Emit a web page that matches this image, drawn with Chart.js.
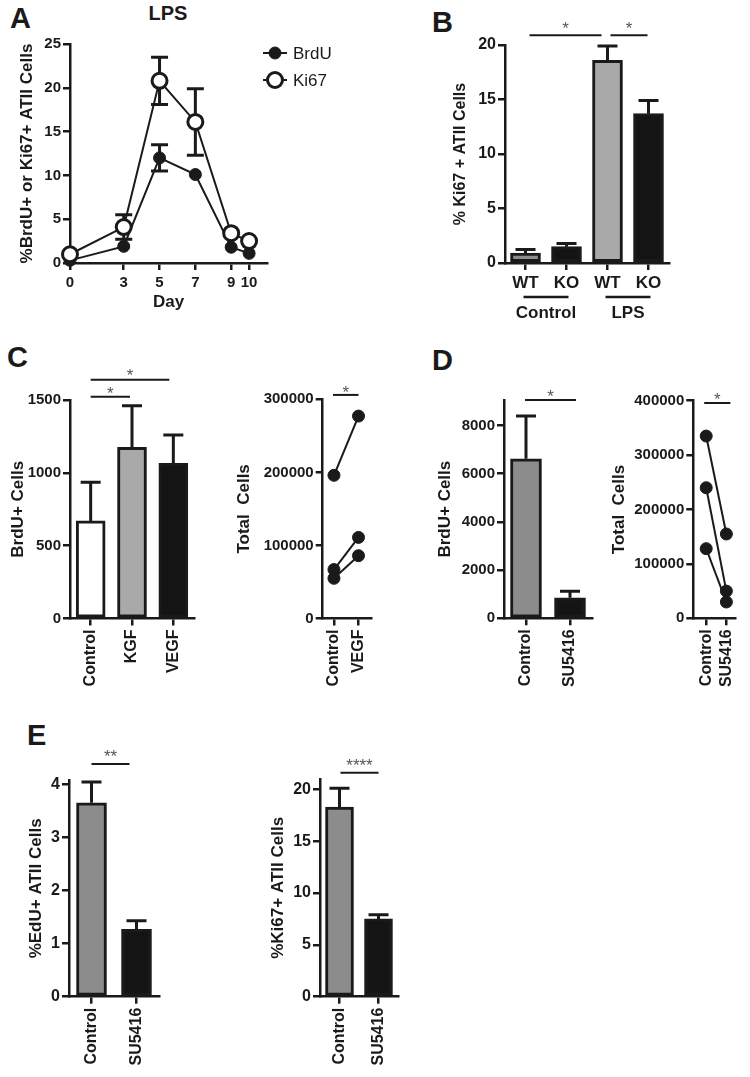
<!DOCTYPE html>
<html>
<head>
<meta charset="utf-8">
<script src="https://cdn.jsdelivr.net/npm/chart.js@4.4.1/dist/chart.umd.min.js"></script>
<style>
  body { margin: 0; background: #fff; width: 750px; height: 1077px; overflow: hidden; position: relative;
         font-family: "Liberation Sans", Arial, sans-serif; }
  canvas { position: absolute; }
  .lbl { position: absolute; font-weight: bold; color: #1a1a1a; line-height: 1; white-space: nowrap; }
  .panel { font-size: 29px; }
</style>
</head>
<body>
<div class="lbl panel" style="left:10px;top:4px">A</div>
<div class="lbl panel" style="left:432px;top:8px">B</div>
<div class="lbl panel" style="left:7px;top:343px">C</div>
<div class="lbl panel" style="left:432px;top:346px">D</div>
<div class="lbl panel" style="left:27px;top:721px">E</div>
<div class="lbl" style="left:168px;top:3px;font-size:20px;transform:translateX(-50%)">LPS</div>
<script>
const FONT = '"Liberation Sans", Arial, sans-serif';
const INK = '#1a1a1a';
const STAR = '#555555';

// ---- data ----
// A: time course after LPS
const daysA = [0, 3, 5, 7, 9, 10];
const brduA = [0.3, 1.9, 12.0, 10.1, 1.8, 1.1];
const brduErrA = [0.3, 0.5, 1.5, 0.5, 0.4, 0.3];
const ki67A = [1.0, 4.1, 20.8, 16.1, 3.4, 2.5];
const ki67ErrA = [0.4, 1.4, 2.7, 3.8, 0.6, 0.4];
const dayTicksA = [0, 3, 5, 7, 9, 10];

// B
const catsB = ['WT', 'KO', 'WT', 'KO'];
const groupsB = ['Control', 'LPS'];
const meanB = [0.9, 1.5, 18.6, 13.7];
const semB = [0.35, 0.3, 1.3, 1.2];

// C
const catsC = ['Control', 'KGF', 'VEGF'];
const meanC = [670, 1175, 1065];
const semC = [265, 285, 195];
const pairCatsC = ['Control', 'VEGF'];
const controlC = [196000, 67000, 55000];
const vegfC = [277000, 111000, 86000];

// D
const catsD = ['Control', 'SU5416'];
const meanD = [6620, 850];
const semD = [1780, 270];
const controlD = [335000, 240000, 128000];
const su5416D = [155000, 50000, 30000];

// E
const catsE = ['Control', 'SU5416'];
const eduE = [3.65, 1.27];
const eduSemE = [0.39, 0.16];
const ki67E = [18.3, 7.5];
const ki67SemE = [1.8, 0.4];

Chart.defaults.font.family = FONT;
Chart.defaults.color = INK;

function mkCanvas(id, box) {
  const c = document.createElement('canvas');
  c.id = id; c.width = box.w; c.height = box.h;
  c.style.left = box.left + 'px'; c.style.top = box.top + 'px';
  c.style.width = box.w + 'px'; c.style.height = box.h + 'px';
  document.body.appendChild(c);
  return c;
}

// box = canvas on the page, plot = wanted chart area on the page
function frame(box, plot) {
  return {
    yw: plot.l - box.left,
    xh: box.top + box.h - plot.b - 2,
    padding: {left: 0, top: plot.t - box.top, right: box.left + box.w - plot.r, bottom: 2}
  };
}

function yAxis(fr, o) {
  return {
    type: 'linear', min: 0, max: o.max,
    afterFit: s => { s.width = fr.yw; },
    afterBuildTicks: s => {
      const t = [];
      for (let k = 0; k * o.step <= o.max + 1e-9; k++) t.push({value: k * o.step});
      s.ticks = t;
    },
    border: {display: true, color: INK, width: 2.5},
    grid: {display: true, drawOnChartArea: false, drawTicks: true, tickLength: 7, color: INK, lineWidth: 2.5},
    ticks: {padding: 2, color: INK,
            font: {family: FONT, size: o.tickSize || 15, weight: 'bold'}, callback: v => String(v)},
    title: {display: true, text: o.title, color: INK, padding: {top: 0, bottom: 0},
            font: {family: FONT, size: o.titleSize || 17, weight: 'bold'}}
  };
}

function xCat(fr, o) {
  return {
    type: 'category', offset: true,
    afterFit: s => { s.height = fr.xh; },
    border: {display: true, color: INK, width: 2.5},
    grid: {display: true, offset: false, drawOnChartArea: false, drawTicks: true, tickLength: 7, color: INK, lineWidth: 2.5},
    ticks: {autoSkip: false, minRotation: o.rot, maxRotation: o.rot, padding: o.pad, color: INK,
            font: {family: FONT, size: o.size || 16, weight: 'bold'}}
  };
}

function xLin(fr, o) {
  return {
    type: 'linear', min: o.min, max: o.max,
    afterFit: s => { s.height = fr.xh; },
    afterBuildTicks: s => { s.ticks = o.ticks.map(v => ({value: v})); },
    border: {display: true, color: INK, width: 2.5},
    grid: {display: true, drawOnChartArea: false, drawTicks: true, tickLength: 7, color: INK, lineWidth: 2.5},
    ticks: {autoSkip: false, minRotation: o.rot, maxRotation: o.rot, padding: o.pad, color: INK,
            font: {family: FONT, size: o.size || 16, weight: 'bold'}, callback: o.label},
    title: o.title ? {display: true, text: o.title, color: INK, padding: {top: 0, bottom: o.titlePad},
                      font: {family: FONT, size: 17, weight: 'bold'}} : {display: false}
  };
}

// error bars; ones shorter than the marker are hidden, as Prism does
const errorBars = {
  id: 'errorBars',
  beforeDatasetsDraw(chart) {
    const ctx = chart.ctx, ys = chart.scales.y;
    chart.data.datasets.forEach((ds, i) => {
      if (!ds.errors) return;
      const meta = chart.getDatasetMeta(i);
      ctx.save();
      ctx.strokeStyle = INK; ctx.lineWidth = 3;
      meta.data.forEach((el, j) => {
        const d = ds.data[j], v = typeof d === 'object' ? d.y : d, e = ds.errors[j];
        const hi = ys.getPixelForValue(v + e);
        const lo = ys.getPixelForValue(ds.bothWays ? v - e : v);
        const w = ds.capWidth / 2;
        const mid = ys.getPixelForValue(v);
        const hideBelow = ds.hideBelow || 0;
        ctx.beginPath();
        if (mid - hi > hideBelow) {
          ctx.moveTo(el.x, mid); ctx.lineTo(el.x, hi);
          ctx.moveTo(el.x - w, hi); ctx.lineTo(el.x + w, hi);
        }
        if (ds.bothWays && lo - mid > hideBelow) {
          ctx.moveTo(el.x, mid); ctx.lineTo(el.x, lo);
          ctx.moveTo(el.x - w, lo); ctx.lineTo(el.x + w, lo);
        }
        ctx.stroke();
      });
      ctx.restore();
    });
  }
};

function sigBars(items) {
  return {
    id: 'sig',
    afterDraw(chart) {
      const ctx = chart.ctx, xs = chart.scales.x, ys = chart.scales.y;
      items.forEach(it => {
        const x1 = xs.getPixelForValue(it.from) + it.off[0];
        const x2 = xs.getPixelForValue(it.to) + it.off[1];
        const y = ys.getPixelForValue(it.level);
        ctx.save();
        ctx.strokeStyle = INK; ctx.lineWidth = 2;
        ctx.beginPath(); ctx.moveTo(x1, y); ctx.lineTo(x2, y); ctx.stroke();
        ctx.fillStyle = STAR; ctx.font = '17px ' + FONT;
        ctx.textAlign = 'center'; ctx.textBaseline = 'alphabetic';
        ctx.fillText(it.text, (x1 + x2) / 2, y - it.rise + 9.7);
        ctx.restore();
      });
    }
  };
}

function build(id, box, plot, type, data, scales, plugins) {
  const fr = frame(box, plot);
  return new Chart(mkCanvas(id, box), {
    type: type,
    data: data,
    options: {
      responsive: false, animation: false, devicePixelRatio: 1,
      layout: {autoPadding: false, padding: fr.padding},
      plugins: {legend: {display: false}, tooltip: {enabled: false}},
      scales: scales(fr)
    },
    plugins: plugins
  });
}

function barSet(vals, errs, colors, thick) {
  return {data: vals, errors: errs, capWidth: 20, backgroundColor: colors, borderColor: INK,
          borderWidth: 3, borderSkipped: false, barThickness: thick};
}

function pairSets(a, b) {
  return a.map((v, i) => ({
    data: [{x: 0, y: v}, {x: 1, y: b[i]}],
    borderColor: INK, borderWidth: 2, pointRadius: 6, pointBackgroundColor: INK,
    pointBorderColor: INK, pointBorderWidth: 1, clip: false
  }));
}

// ---- A ----
const boxA = {left: 17, top: 0, w: 330, h: 320};
const legendA = {
  id: 'legendA',
  afterDraw(chart) {
    const ctx = chart.ctx, ox = boxA.left;
    const rows = [{y: 53, text: 'BrdU', fill: INK, r: 6, bw: 1}, {y: 80, text: 'Ki67', fill: '#fff', r: 7.5, bw: 3}];
    rows.forEach(r => {
      ctx.save();
      ctx.strokeStyle = INK; ctx.lineWidth = 2;
      ctx.beginPath(); ctx.moveTo(263 - ox, r.y); ctx.lineTo(287 - ox, r.y); ctx.stroke();
      ctx.beginPath(); ctx.arc(275 - ox, r.y, r.r, 0, Math.PI * 2);
      ctx.fillStyle = r.fill; ctx.fill(); ctx.lineWidth = r.bw; ctx.stroke();
      ctx.fillStyle = INK; ctx.font = '17px ' + FONT; ctx.textBaseline = 'middle'; ctx.textAlign = 'left';
      ctx.fillText(r.text, 293 - ox, r.y + 1);
      ctx.restore();
    });
  }
};
build('chartA', boxA, {l: 70, t: 44, r: 267, b: 263}, 'line', {
  datasets: [
    {label: 'Ki67', data: daysA.map((d, i) => ({x: d, y: ki67A[i]})), errors: ki67ErrA, bothWays: true,
     capWidth: 17, hideBelow: 9,
     borderColor: INK, borderWidth: 2, pointRadius: 7.5, pointBackgroundColor: '#fff', pointBorderColor: INK,
     pointBorderWidth: 3, clip: false},
    {label: 'BrdU', data: daysA.map((d, i) => ({x: d, y: brduA[i]})), errors: brduErrA, bothWays: true,
     capWidth: 17, hideBelow: 7,
     borderColor: INK, borderWidth: 2, pointRadius: 6, pointBackgroundColor: INK, pointBorderColor: INK,
     pointBorderWidth: 1, clip: false}
  ]
}, fr => ({
  x: xLin(fr, {min: 0, max: 11, ticks: dayTicksA, rot: 0, pad: 4, size: 15, label: v => String(v), title: 'Day', titlePad: 5}),
  y: yAxis(fr, {max: 25, step: 5, title: '%BrdU+ or Ki67+ ATII Cells'})
}), [errorBars, legendA]);

// ---- B ----
const groupLabelsB = {
  id: 'groupsB',
  afterDraw(chart) {
    const ctx = chart.ctx, xs = chart.scales.x, b = chart.chartArea.bottom;
    groupsB.forEach((g, k) => {
      const x1 = xs.getPixelForValue(2 * k) - 2, x2 = xs.getPixelForValue(2 * k + 1) + 2;
      ctx.save();
      ctx.strokeStyle = INK; ctx.lineWidth = 2.5;
      ctx.beginPath(); ctx.moveTo(x1, b + 34); ctx.lineTo(x2, b + 34); ctx.stroke();
      ctx.fillStyle = INK; ctx.font = 'bold 17px ' + FONT; ctx.textAlign = 'center'; ctx.textBaseline = 'middle';
      ctx.fillText(g, (x1 + x2) / 2, b + 50);
      ctx.restore();
    });
  }
};
build('chartB', {left: 451, top: 0, w: 299, h: 330}, {l: 505, t: 45, r: 669, b: 263}, 'bar', {
  labels: catsB,
  datasets: [barSet(meanB, semB, ['#8c8c8c', '#141414', '#a9a9a9', '#141414'], 30)]
}, fr => ({
  x: xCat(fr, {rot: 0, pad: 3, size: 17}),
  y: yAxis(fr, {max: 20, step: 5, title: '% Ki67 + ATII Cells', tickSize: 16, titleSize: 16})
}), [errorBars, groupLabelsB, sigBars([
  {from: 0, to: 2, level: 20.9, text: '*', off: [4, -6], rise: 11},
  {from: 2, to: 3, level: 20.9, text: '*', off: [3, -1], rise: 11}
])]);

// ---- C ----
build('chartC1', {left: 8, top: 340, w: 200, h: 360}, {l: 70, t: 400, r: 194, b: 618.5}, 'bar', {
  labels: catsC,
  datasets: [barSet(meanC, semC, ['#ffffff', '#a9a9a9', '#141414'], 29)]
}, fr => ({
  x: xCat(fr, {rot: 90, pad: 4}),
  y: yAxis(fr, {max: 1500, step: 500, title: 'BrdU+ Cells'})
}), [errorBars, sigBars([
  {from: 0, to: 2, level: 1639, text: '*', off: [0, -4], rise: 8},
  {from: 0, to: 1, level: 1522, text: '*', off: [0, -2], rise: 7}
])]);

build('chartC2', {left: 234, top: 340, w: 150, h: 360}, {l: 322.7, t: 399.3, r: 375, b: 618.5}, 'line', {
  datasets: pairSets(controlC, vegfC)
}, fr => ({
  x: xLin(fr, {min: -0.46, max: 1.5, ticks: [0, 1], rot: 90, pad: 4, label: v => pairCatsC[v]}),
  y: yAxis(fr, {max: 300000, step: 100000, title: 'Total  Cells'})
}), [sigBars([{from: 0, to: 1, level: 306000, text: '*', off: [-1, 0], rise: 7}])]);

// ---- D ----
build('chartD1', {left: 435, top: 340, w: 165, h: 360}, {l: 504, t: 400, r: 592, b: 618.3}, 'bar', {
  labels: catsD,
  datasets: [barSet(meanD, semD, ['#8c8c8c', '#141414'], 31)]
}, fr => ({
  x: xCat(fr, {rot: 90, pad: 4}),
  y: yAxis(fr, {max: 9060, step: 2000, title: 'BrdU+ Cells'})
}), [errorBars, sigBars([{from: 0, to: 1, level: 9060, text: '*', off: [-1, 6], rise: 8}])]);

build('chartD2', {left: 609, top: 340, w: 141, h: 360}, {l: 693.3, t: 400.7, r: 748, b: 618.3}, 'line', {
  datasets: pairSets(controlD, su5416D)
}, fr => ({
  x: xLin(fr, {min: -0.64, max: 1.46, ticks: [0, 1], rot: 90, pad: 4, label: v => catsD[v]}),
  y: yAxis(fr, {max: 400000, step: 100000, title: 'Total  Cells'})
}), [sigBars([{from: 0, to: 1, level: 395800, text: '*', off: [-2, 4], rise: 8}])]);

// ---- E ----
build('chartE1', {left: 26, top: 720, w: 144, h: 357}, {l: 69, t: 780, r: 159, b: 996.7}, 'bar', {
  labels: catsE,
  datasets: [barSet(eduE, eduSemE, ['#8c8c8c', '#141414'], 30)]
}, fr => ({
  x: xCat(fr, {rot: 90, pad: 4}),
  y: yAxis(fr, {max: 4.08, step: 1, title: '%EdU+ ATII Cells', tickSize: 16})
}), [errorBars, sigBars([{from: 0, to: 1, level: 4.38, text: '**', off: [0, -7], rise: 12}])]);

build('chartE2', {left: 268, top: 720, w: 140, h: 357}, {l: 320, t: 779, r: 398, b: 996.7}, 'bar', {
  labels: catsE,
  datasets: [barSet(ki67E, ki67SemE, ['#8c8c8c', '#141414'], 28)]
}, fr => ({
  x: xCat(fr, {rot: 90, pad: 4}),
  y: yAxis(fr, {max: 21, step: 5, title: '%Ki67+ ATII Cells', tickSize: 16})
}), [errorBars, sigBars([{from: 0, to: 1, level: 21.6, text: '****', off: [1, 0], rise: 11}])]);
</script>
</body>
</html>
